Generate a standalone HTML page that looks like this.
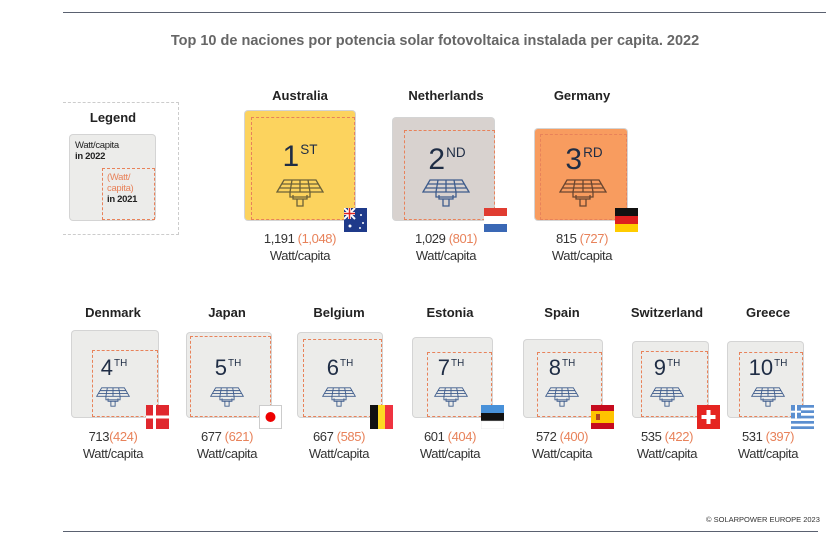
<!DOCTYPE html>
<html><head><meta charset="utf-8"><style>
body{margin:0;width:826px;height:540px;background:#fff;position:relative;overflow:hidden;font-family:"Liberation Sans",sans-serif;color:#222}
.a{position:absolute}
.box{position:absolute;border-radius:3px;box-shadow:0 0 0 1px #d4d4d4}
.d{position:absolute;border:1.5px dashed #e8825a;box-sizing:border-box}
.nm{position:absolute;font-weight:bold;font-size:13px;width:120px;text-align:center;color:#222}
.v{position:absolute;font-size:13px;width:140px;text-align:center;line-height:17px;color:#333;letter-spacing:-0.4px}
.v span{color:#e8825a}
.rk{position:absolute;color:#1f2d45;text-align:center;width:100px}
.rk sup{font-size:0.45em;vertical-align:0.9em;margin-left:1px}
.fl{position:absolute;width:23px;height:24px}
</style></head><body>
<div class="a" style="left:63px;top:12px;width:763px;height:1px;background:#5a6170"></div>
<div class="a" style="left:63px;top:531px;width:755px;height:1px;background:#5a6170"></div>
<div class="a" style="left:0;width:870px;top:33px;text-align:center;font-weight:bold;font-size:14.5px;color:#666">Top 10 de naciones por potencia solar fotovoltaica instalada per capita. 2022</div>
<div class="a" style="left:706px;top:515px;font-size:7.5px;color:#333">© SOLARPOWER EUROPE 2023</div>

<!-- legend -->
<div class="d" style="left:63px;top:102px;width:116px;height:133px;border:1px dashed #ccc;border-left:none"></div>
<div class="a" style="left:63px;top:110px;width:100px;text-align:center;font-weight:bold;font-size:13px">Legend</div>
<div class="box" style="left:70px;top:135px;width:85px;height:85px;background:#ececea"></div>
<div class="a" style="left:75px;top:140px;font-size:9.5px;line-height:11px;letter-spacing:-0.3px">Watt/capita<br><b>in 2022</b></div>
<div class="d" style="left:102px;top:168px;width:53px;height:52px"></div>
<div class="a" style="left:107px;top:172px;font-size:9.5px;line-height:11px;color:#e8825a;letter-spacing:-0.3px">(Watt/<br>capita)<br><b style="color:#222">in 2021</b></div>

<svg width="0" height="0" style="position:absolute"><defs>
<g id="p" fill="none" stroke-width="1.3">
<path d="M8 2 H40 L47 14 H1 Z M3.5 10 H44.5 M5.5 6 H42.5 M16 2 L14 14 M24 2 V14 M32 2 L34 14"/>
<path d="M14 14 V19 H34 V14 M17 17 V21 H31 V17 M21 21 V28 H27 V21"/>
</g></defs></svg>

<!-- Australia -->
<div class="nm" style="left:240px;top:88px">Australia</div>
<div class="box" style="left:245px;top:111px;width:110px;height:109px;background:#fcd35e"></div>
<div class="d" style="left:251px;top:117px;width:104px;height:103px"></div>
<div class="rk" style="left:250px;top:140px;font-size:30px">1<sup>ST</sup></div>
<svg class="a" style="left:276px;top:178px" width="48" height="30"><use href="#p" stroke="#6b6138"/></svg>
<svg class="fl" style="left:344px;top:208px" viewBox="0 0 23 24"><rect width="23" height="24" fill="#1f3a8a"/><path d="M0 0L11 11M11 0L0 11" stroke="#fff" stroke-width="2"/><path d="M5.5 0V11M0 5.5H11" stroke="#fff" stroke-width="3"/><path d="M5.5 0V11M0 5.5H11" stroke="#d22" stroke-width="1.5"/><circle cx="6" cy="18" r="1.5" fill="#fff"/><circle cx="17" cy="7" r="1" fill="#fff"/><circle cx="19" cy="15" r="1" fill="#fff"/><circle cx="16" cy="20" r="1" fill="#fff"/></svg>
<div class="v" style="left:230px;top:230px">1,191 <span>(1,048)</span><br>Watt/capita</div>

<!-- Netherlands -->
<div class="nm" style="left:386px;top:88px">Netherlands</div>
<div class="box" style="left:393px;top:118px;width:101px;height:102px;background:#d8d2cf"></div>
<div class="d" style="left:404px;top:130px;width:91px;height:90px"></div>
<div class="rk" style="left:397px;top:143px;font-size:30px">2<sup>ND</sup></div>
<svg class="a" style="left:422px;top:178px" width="48" height="30"><use href="#p" stroke="#3e5c8c"/></svg>
<svg class="fl" style="left:484px;top:208px" viewBox="0 0 23 24"><rect width="23" height="8" fill="#e03c31"/><rect y="8" width="23" height="8" fill="#fff"/><rect y="16" width="23" height="8" fill="#3a68b5"/></svg>
<div class="v" style="left:376px;top:230px">1,029 <span>(801)</span><br>Watt/capita</div>

<!-- Germany -->
<div class="nm" style="left:522px;top:88px">Germany</div>
<div class="box" style="left:535px;top:129px;width:92px;height:91px;background:#f89c5f"></div>
<div class="d" style="left:540px;top:134px;width:87px;height:86px"></div>
<div class="rk" style="left:534px;top:143px;font-size:30px">3<sup>RD</sup></div>
<svg class="a" style="left:559px;top:178px" width="48" height="30"><use href="#p" stroke="#6a4630"/></svg>
<svg class="fl" style="left:615px;top:208px" viewBox="0 0 23 24"><rect width="23" height="8" fill="#111"/><rect y="8" width="23" height="8" fill="#dd1f1f"/><rect y="16" width="23" height="8" fill="#ffcc00"/></svg>
<div class="v" style="left:512px;top:230px">815 <span>(727)</span><br>Watt/capita</div>

<!-- Row 2 -->
<div class="nm" style="left:53px;top:305px">Denmark</div>
<div class="box" style="left:72px;top:331px;width:86px;height:86px;background:#ececea"></div>
<div class="d" style="left:92px;top:350px;width:66px;height:67px"></div>
<div class="rk" style="left:64px;top:355px;font-size:22px">4<sup>TH</sup></div>
<svg class="a" style="left:96px;top:386px" width="34" height="22" viewBox="0 0 48 30"><use href="#p" stroke="#3e5c8c" stroke-width="2"/></svg>
<svg class="fl" style="left:146px;top:405px" viewBox="0 0 23 24"><rect width="23" height="24" fill="#e0282e"/><rect x="7" width="3" height="24" fill="#fff"/><rect y="10.5" width="23" height="3" fill="#fff"/></svg>
<div class="v" style="left:43px;top:428px">713<span>(424)</span><br>Watt/capita</div>

<div class="nm" style="left:167px;top:305px">Japan</div>
<div class="box" style="left:187px;top:333px;width:84px;height:84px;background:#ececea"></div>
<div class="d" style="left:190px;top:336px;width:81px;height:81px"></div>
<div class="rk" style="left:178px;top:355px;font-size:22px">5<sup>TH</sup></div>
<svg class="a" style="left:210px;top:386px" width="34" height="22" viewBox="0 0 48 30"><use href="#p" stroke="#3e5c8c" stroke-width="2"/></svg>
<svg class="fl" style="left:259px;top:405px" viewBox="0 0 23 24"><rect x=".5" y=".5" width="22" height="23" fill="#fff" stroke="#ccc"/><circle cx="11.5" cy="12" r="5" fill="#e00"/></svg>
<div class="v" style="left:157px;top:428px">677 <span>(621)</span><br>Watt/capita</div>

<div class="nm" style="left:279px;top:305px">Belgium</div>
<div class="box" style="left:298px;top:333px;width:84px;height:84px;background:#ececea"></div>
<div class="d" style="left:303px;top:339px;width:79px;height:78px"></div>
<div class="rk" style="left:290px;top:355px;font-size:22px">6<sup>TH</sup></div>
<svg class="a" style="left:322px;top:386px" width="34" height="22" viewBox="0 0 48 30"><use href="#p" stroke="#3e5c8c" stroke-width="2"/></svg>
<svg class="fl" style="left:370px;top:405px" viewBox="0 0 23 24"><rect width="8" height="24" fill="#111"/><rect x="8" width="7" height="24" fill="#fdda24"/><rect x="15" width="8" height="24" fill="#ef3340"/></svg>
<div class="v" style="left:269px;top:428px">667 <span>(585)</span><br>Watt/capita</div>

<div class="nm" style="left:390px;top:305px">Estonia</div>
<div class="box" style="left:413px;top:338px;width:79px;height:79px;background:#ececea"></div>
<div class="d" style="left:427px;top:352px;width:65px;height:65px"></div>
<div class="rk" style="left:401px;top:355px;font-size:22px">7<sup>TH</sup></div>
<svg class="a" style="left:434px;top:386px" width="34" height="22" viewBox="0 0 48 30"><use href="#p" stroke="#3e5c8c" stroke-width="2"/></svg>
<svg class="fl" style="left:481px;top:405px" viewBox="0 0 23 24"><rect width="23" height="8" fill="#4891d9"/><rect y="8" width="23" height="8" fill="#111"/><rect y="16" width="23" height="8" fill="#fff" stroke="#ddd" stroke-width=".5"/></svg>
<div class="v" style="left:380px;top:428px">601 <span>(404)</span><br>Watt/capita</div>

<div class="nm" style="left:502px;top:305px">Spain</div>
<div class="box" style="left:524px;top:340px;width:78px;height:77px;background:#ececea"></div>
<div class="d" style="left:537px;top:352px;width:65px;height:65px"></div>
<div class="rk" style="left:512px;top:355px;font-size:22px">8<sup>TH</sup></div>
<svg class="a" style="left:545px;top:386px" width="34" height="22" viewBox="0 0 48 30"><use href="#p" stroke="#3e5c8c" stroke-width="2"/></svg>
<svg class="fl" style="left:591px;top:405px" viewBox="0 0 23 24"><rect width="23" height="24" fill="#c60b1e"/><rect y="6" width="23" height="12" fill="#ffc400"/><rect x="5" y="9" width="4" height="6" fill="#b3451f"/></svg>
<div class="v" style="left:492px;top:428px">572 <span>(400)</span><br>Watt/capita</div>

<div class="nm" style="left:607px;top:305px">Switzerland</div>
<div class="box" style="left:633px;top:342px;width:75px;height:75px;background:#ececea"></div>
<div class="d" style="left:641px;top:351px;width:67px;height:66px"></div>
<div class="rk" style="left:617px;top:355px;font-size:22px">9<sup>TH</sup></div>
<svg class="a" style="left:650px;top:386px" width="34" height="22" viewBox="0 0 48 30"><use href="#p" stroke="#3e5c8c" stroke-width="2"/></svg>
<svg class="fl" style="left:697px;top:405px" viewBox="0 0 23 24"><rect width="23" height="24" fill="#e52521"/><rect x="9.5" y="5" width="4" height="14" fill="#fff"/><rect x="4.5" y="10" width="14" height="4" fill="#fff"/></svg>
<div class="v" style="left:597px;top:428px">535 <span>(422)</span><br>Watt/capita</div>

<div class="nm" style="left:708px;top:305px">Greece</div>
<div class="box" style="left:728px;top:342px;width:75px;height:75px;background:#ececea"></div>
<div class="d" style="left:739px;top:352px;width:64px;height:65px"></div>
<div class="rk" style="left:718px;top:355px;font-size:22px">10<sup>TH</sup></div>
<svg class="a" style="left:751px;top:386px" width="34" height="22" viewBox="0 0 48 30"><use href="#p" stroke="#3e5c8c" stroke-width="2"/></svg>
<svg class="fl" style="left:791px;top:405px" viewBox="0 0 23 24"><rect width="23" height="24" fill="#fff"/><g fill="#5b8fd0"><rect y="0" width="23" height="2.7"/><rect y="5.3" width="23" height="2.7"/><rect y="10.7" width="23" height="2.7"/><rect y="16" width="23" height="2.7"/><rect y="21.3" width="23" height="2.7"/><rect width="10" height="13.4"/></g><rect x="4" width="2" height="13.4" fill="#fff"/><rect y="5.7" width="10" height="2" fill="#fff"/></svg>
<div class="v" style="left:698px;top:428px">531 <span>(397)</span><br>Watt/capita</div>
</body></html>
